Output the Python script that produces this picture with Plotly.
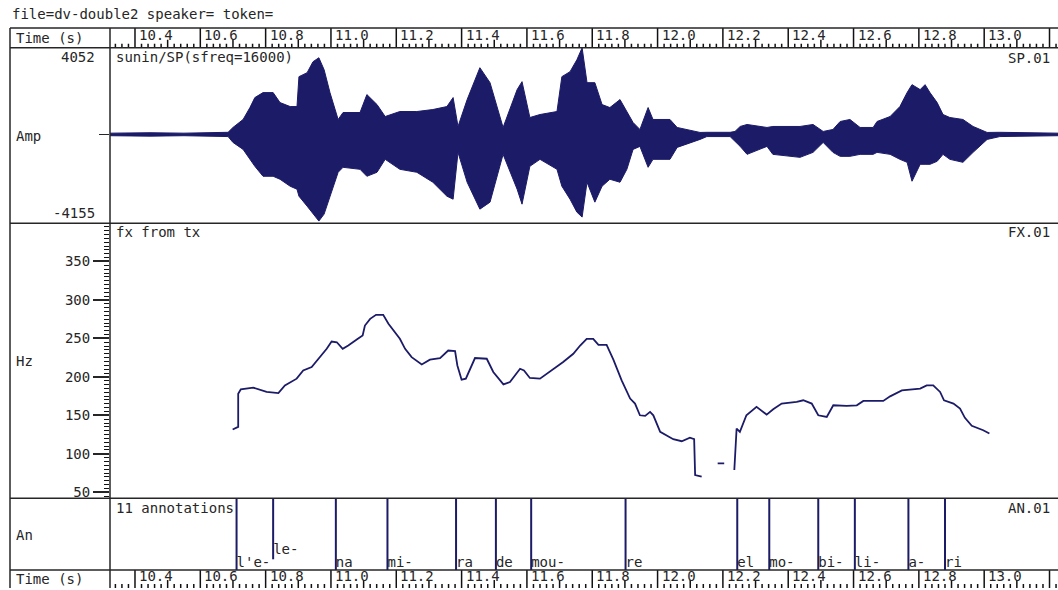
import plotly.graph_objects as go

# ---------------------------------------------------------------- data
# speech waveform envelope (sample amplitude, upper / lower extremes)
wave_t = [10.323, 10.446, 10.550, 10.685, 10.700, 10.731, 10.752, 10.767, 10.792, 10.823,
          10.844, 10.875, 10.896, 10.902, 10.927, 10.945, 10.963, 10.979, 10.997, 11.022,
          11.037, 11.089, 11.110, 11.141, 11.166, 11.211, 11.263, 11.312, 11.355, 11.374,
          11.389, 11.417, 11.456, 11.487, 11.527, 11.570, 11.585, 11.609, 11.640, 11.692,
          11.707, 11.732, 11.753, 11.769, 11.784, 11.808, 11.830, 11.854, 11.885, 11.906,
          11.925, 11.946, 11.971, 11.986, 12.038, 12.060, 12.130, 12.151, 12.222, 12.237,
          12.253, 12.274, 12.335, 12.353, 12.436, 12.476, 12.507, 12.537, 12.559, 12.589,
          12.620, 12.660, 12.672, 12.712, 12.742, 12.764, 12.779, 12.804, 12.819, 12.834,
          12.856, 12.874, 12.895, 12.935, 12.966, 13.009, 13.048, 13.226]
wave_up = [60, 80, 60, 100, 326, 700, 1258, 1724, 1957, 1957,
           1491, 1305, 1305, 2703, 2889, 3402, 3588, 3029, 1957, 700,
           1025, 1025, 1864, 1398, 839, 1072, 1072, 1165, 1305, 1724,
           373, 1631, 3122, 2423, 326, 2097, 2470, 792, 932, 1072,
           2703, 2936, 3495, 4052, 2423, 2423, 1398, 1258, 1631, 1072,
           559, 233, 1258, 700, 700, 326, 93, 100, 100, 140,
           373, 466, 326, 373, 373, 466, 140, 233, 606, 700,
           326, 326, 606, 839, 1305, 1957, 2330, 2097, 2330, 1957,
           1491, 932, 792, 700, 373, 93, 100, 60]
wave_lo = [-60, -80, -60, -100, -373, -700, -1165, -1491, -1957, -1957,
           -2097, -2423, -2563, -2889, -3355, -3681, -4054, -3728, -2889, -1771,
           -1538, -1631, -1957, -1771, -1165, -1631, -1771, -2237, -2889, -3029,
           -839, -2237, -3495, -3169, -932, -2563, -3262, -1491, -1165, -1631,
           -2423, -3029, -3635, -3868, -2237, -3169, -2423, -2097, -2237, -1631,
           -700, -559, -1538, -1165, -1165, -606, -233, -100, -100, -326,
           -559, -932, -559, -932, -1072, -839, -373, -839, -1025, -1025,
           -932, -932, -839, -932, -1165, -1305, -2190, -1398, -1398, -1398,
           -1258, -932, -1165, -1305, -839, -233, -100, -60]

# fundamental frequency track (None = unvoiced gap)
fx_t = [10.699, 10.716, 10.716, 10.724, 10.762, 10.803, 10.839, 10.859, 10.895, 10.915,
        10.941, 10.966, 10.987, 11.002, 11.018, 11.036, 11.053, 11.079, 11.097, 11.104,
        11.120, 11.138, 11.160, 11.176, 11.191, 11.211, 11.227, 11.247, 11.278, 11.303,
        11.334, 11.359, 11.380, 11.387, 11.400, 11.413, 11.441, 11.477, 11.497, 11.528,
        11.548, 11.579, 11.591, 11.609, 11.640, 11.661, 11.691, 11.711, 11.742, 11.763,
        11.783, 11.803, 11.819, 11.844, 11.865, 11.890, 11.916, 11.931, 11.946, 11.962,
        11.977, 11.987, 12.008, 12.028, 12.048, 12.074, 12.099, 12.112, 12.115, 12.135,
        None, 12.184, 12.204, None,
        12.235, 12.242, 12.252, 12.272, 12.303, 12.334, 12.354, 12.380, 12.426, 12.446,
        12.472, 12.492, 12.518, 12.538, 12.579, 12.610, 12.630, 12.691, 12.712, 12.748,
        12.804, 12.824, 12.844, 12.865, 12.877, 12.906, 12.926, 12.941, 12.962, 12.997,
        13.016]
fx_hz = [131.6, 135.0, 178.0, 183.8, 186.0, 180.4, 179.0, 189.0, 197.7, 208.4,
         212.8, 225.7, 236.5, 246.0, 245.0, 236.5, 240.8, 248.6, 253.8, 266.7,
         275.4, 280.6, 280.6, 269.0, 260.2, 249.5, 236.5, 225.7, 216.2, 222.3,
         224.5, 234.3, 233.5, 214.9, 196.4, 197.7, 224.5, 223.6, 206.4, 190.3,
         193.4, 210.6, 208.4, 198.6, 197.7, 204.0, 212.8, 219.3, 230.0, 240.8,
         249.5, 249.5, 241.7, 241.7, 222.2, 195.5, 171.8, 165.3, 150.1, 149.3,
         154.5, 150.1, 128.6, 123.4, 119.0, 116.4, 120.9, 119.0, 72.4, 70.3,
         None, 87.6, 87.6, None,
         78.9, 132.9, 128.6, 150.1, 161.0, 151.0, 157.9, 165.3, 167.5, 169.6,
         165.3, 150.1, 148.0, 163.1, 162.3, 163.1, 168.8, 168.8, 174.7, 182.5,
         184.7, 189.0, 189.0, 180.4, 169.6, 165.3, 158.8, 146.8, 136.4, 130.7,
         126.4]

# syllable annotations: boundary time, label, stacking row
ann_t = [10.711, 10.823, 11.015, 11.173, 11.383, 11.505, 11.613, 11.902,
         12.244, 12.342, 12.492, 12.604, 12.768, 12.880]
ann_text = ["l'e-", "le-", "na", "mi-", "ra", "de", "mou-", "re",
            "el", "mo-", "bi-", "li-", "a-", "ri"]
ann_row = [0, 1, 0, 0, 0, 0, 0, 0, 0, 0, 0, 0, 0, 0]

# time ruler labels
ruler_labels = [10.4, 10.6, 10.8, 11.0, 11.2, 11.4, 11.6, 11.8,
                12.0, 12.2, 12.4, 12.6, 12.8, 13.0]

amp_max, amp_min = 4052, -4155
hz_ticks = [50, 100, 150, 200, 250, 300, 350]

# ---------------------------------------------------------------- style
W, H = 1058, 590
NAVY = "#1c1b68"
INK = "#262626"
TICK = "#111111"
FONT = dict(family="DejaVu Sans Mono", size=14, color=INK)
T0, T1 = 10.3235, 13.226
HZ0, HZ1 = 42.2, 399.7


def px(x):
    return x / W


def py(y):
    return 1 - y / H


fig = go.Figure()

# waveform envelope
fig.add_trace(go.Scatter(
    x=wave_t + wave_t[::-1], y=wave_up + wave_lo[::-1],
    fill="toself", fillcolor=NAVY, mode="lines",
    line=dict(color=NAVY, width=1), xaxis="x", yaxis="y",
    hoverinfo="skip", showlegend=False))

# pitch track
fig.add_trace(go.Scatter(
    x=fx_t, y=fx_hz, mode="lines", connectgaps=False,
    line=dict(color=NAVY, width=1.8), xaxis="x", yaxis="y2",
    hoverinfo="skip", showlegend=False))

# annotation boundaries
bx, by = [], []
for t, r in zip(ann_t, ann_row):
    bx += [t, t, None]
    by += [1.0, 0.0 if r == 0 else 0.15, None]
fig.add_trace(go.Scatter(
    x=bx, y=by, mode="lines", line=dict(color=NAVY, width=2),
    xaxis="x", yaxis="y3", hoverinfo="skip", showlegend=False))

# annotation labels
fig.add_trace(go.Scatter(
    x=ann_t, y=[0.09 + 0.18 * r for r in ann_row], text=ann_text,
    mode="text", textposition="middle right", textfont=FONT,
    xaxis="x", yaxis="y3", hoverinfo="skip", showlegend=False))

# time rulers: ticks every 20 ms, taller at 100 ms, full height at 200 ms
steps = range(int(round(T0 * 50)) + 1, int(round(T1 * 50)) + 1)


def ruler_ticks(full, axis):
    xs, ys = [], []
    for k in steps:
        length = full if k % 10 == 0 else (8 if k % 5 == 0 else 4)
        xs += [k / 50, k / 50, None]
        ys += [0, length, None]
    fig.add_trace(go.Scatter(x=xs, y=ys, mode="lines",
                             line=dict(color=TICK, width=1.5), xaxis="x",
                             yaxis=axis, hoverinfo="skip", showlegend=False))


ruler_ticks(20, "y4")
ruler_ticks(18, "y5")

xdom = [px(110), 1]
fig.update_layout(
    width=W, height=H, margin=dict(l=0, r=0, t=0, b=0),
    paper_bgcolor="white", plot_bgcolor="white", showlegend=False,
    xaxis=dict(domain=xdom, range=[T0, T1], showgrid=False, zeroline=False,
               showline=False, showticklabels=False, ticks=""),
    yaxis=dict(domain=[py(224), py(48)], range=[amp_min, amp_max],
               anchor="x", tickmode="array", tickvals=[0], ticks="outside",
               ticklen=10, tickcolor=INK, showticklabels=False,
               showgrid=False, zeroline=False, showline=False),
    yaxis2=dict(domain=[py(500), py(224)], range=[HZ0, HZ1], anchor="x",
                tickmode="array", tickvals=hz_ticks, ticks="outside",
                ticklen=16, tickwidth=1.5, tickcolor=INK, tickfont=FONT,
                minor=dict(tickmode="linear", tick0=0, dtick=5,
                           ticks="outside", ticklen=5, tickwidth=1.3,
                           tickcolor=TICK),
                showgrid=False, zeroline=False, showline=False),
    yaxis3=dict(domain=[py(572), py(500)], range=[0, 1], anchor="x",
                visible=False),
    yaxis4=dict(domain=[py(48), py(28)], range=[0, 20], anchor="x",
                visible=False),
    yaxis5=dict(domain=[0, py(572)], range=[0, 18], anchor="x",
                visible=False),
)

# panel frame
frame = dict(color=INK, width=1.5)
for y in [28, 48, 224, 500, 572]:
    fig.add_shape(type="line", xref="paper", yref="paper",
                  x0=px(10), x1=1, y0=py(y), y1=py(y), line=frame)
for x in [10, 110]:
    fig.add_shape(type="line", xref="paper", yref="paper",
                  x0=px(x), x1=px(x), y0=py(28), y1=0, line=frame)


def text(x, y, s, anchor="left"):
    fig.add_annotation(x=px(x), y=py(y), xref="paper", yref="paper", text=s,
                       showarrow=False, xanchor=anchor, yanchor="middle",
                       font=FONT)


text(10, 14, "file=dv-double2 speaker= token=")
text(14, 38, "Time (s)")
text(14, 581, "Time (s)")
text(97, 57, str(amp_max), "right")
text(14, 136, "Amp")
text(97, 214, str(amp_min), "right")
text(14, 362, "Hz")
text(14, 537, "An")
text(114, 57, "sunin/SP(sfreq=16000)")
text(1052, 58, "SP.01", "right")
text(114, 233, "fx from tx")
text(1052, 233, "FX.01", "right")
text(114, 510, "11 annotations")
text(1052, 510, "AN.01", "right")

# ruler labels sit just right of each major tick
for v in ruler_labels:
    for y in (35, 578):
        fig.add_annotation(x=v, y=py(y), xref="x", yref="paper",
                           text=f"{v:.1f}", showarrow=False, xanchor="left",
                           yanchor="middle", xshift=2, font=FONT)

fig.write_html("out.html")
